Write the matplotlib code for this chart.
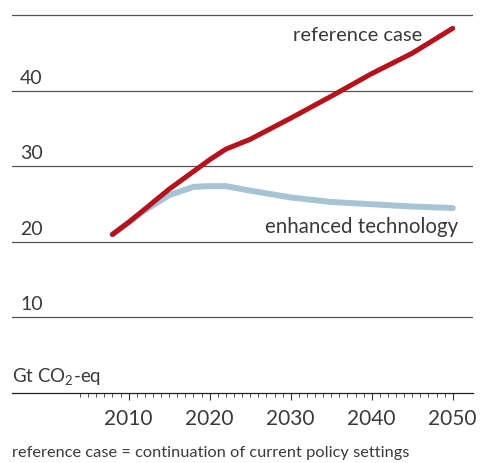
import matplotlib
matplotlib.use("Agg")
import matplotlib.pyplot as plt
from matplotlib.ticker import FixedLocator

plt.rcParams['font.family'] = ['Lato', 'DejaVu Sans']
plt.rcParams['mathtext.fontset'] = 'custom'
plt.rcParams['mathtext.rm'] = 'Lato'
plt.rcParams['mathtext.it'] = 'Lato'

ref_years = [2008, 2010, 2015, 2020, 2022, 2025, 2030, 2035, 2040, 2045, 2050]
ref_values = [21.0, 22.6, 27.0, 30.9, 32.3, 33.6, 36.4, 39.3, 42.3, 45.0, 48.3]

enh_years = [2008, 2010, 2012, 2015, 2018, 2020, 2022, 2025, 2030, 2035, 2040, 2045, 2050]
enh_values = [21.0, 22.6, 24.2, 26.2, 27.3, 27.4, 27.4, 26.8, 25.9, 25.3, 25.0, 24.7, 24.5]

y_ticks = [10, 20, 30, 40]
x_ticks = [2010, 2020, 2030, 2040, 2050]

text_color = '#3a3a3a'
fig = plt.figure(figsize=(4.81, 4.63), dpi=100)
ax = fig.add_axes([12/481, 70/463, 461/481, 393/463])
ax.set_xlim(1995.6, 2052.5)
ax.set_ylim(0, 52.05)

for v in y_ticks + [50]:
    ax.axhline(v, color='#555555', lw=0.9, zorder=1)
for v in y_ticks:
    ax.text(1996.6, v + 0.55, str(v), fontsize=14, color=text_color,
            ha='left', va='bottom')

ax.plot(enh_years, enh_values, color='#a7c4d4', lw=4.3, solid_capstyle='round', zorder=2)
ax.plot(ref_years, ref_values, color='#b5121b', lw=3.6, solid_capstyle='round', zorder=3)

ax.text(2046.2, 47.4, 'reference case', fontsize=14.5, color=text_color,
        ha='right', va='center')
ax.text(2050.7, 22.0, 'enhanced technology', fontsize=14.8, color=text_color,
        ha='right', va='center')
ax.text(1995.6, 2.2, r'Gt CO$_\mathrm{2}$-eq', fontsize=13.5, color=text_color,
        ha='left', va='center')

for s in ['top', 'right', 'left']:
    ax.spines[s].set_visible(False)
ax.spines['bottom'].set_color('#222222')
ax.spines['bottom'].set_linewidth(0.9)
ax.set_yticks([])
ax.xaxis.set_major_locator(FixedLocator(x_ticks))
ax.xaxis.set_minor_locator(FixedLocator(list(range(2004, 2051))))
ax.set_xticklabels([str(x) for x in x_ticks])
ax.tick_params(axis='x', which='major', length=5.2, width=0.8, color='#333333',
               labelsize=15, labelcolor=text_color, pad=6)
ax.tick_params(axis='x', which='minor', length=3, width=0.6, color='#333333')

fig.text(12/481, 1 - 453/463, 'reference case = continuation of current policy settings',
         fontsize=11.8, color=text_color, ha='left', va='center')

fig.savefig('out.png', dpi=100)
